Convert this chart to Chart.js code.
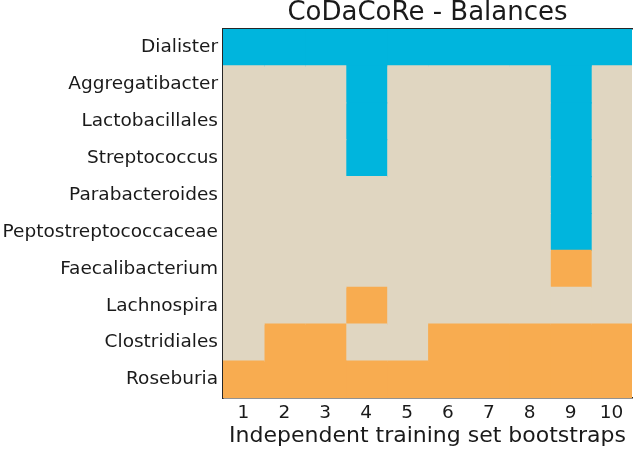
<!DOCTYPE html>
<html>
<head>
<meta charset="utf-8">
<script src="https://cdn.jsdelivr.net/npm/chart.js@4/dist/chart.umd.min.js"></script>
<style>
  html, body { margin: 0; padding: 0; background: #fff; }
  #wrap { width: 633px; height: 449px; }
</style>
</head>
<body>
<div id="wrap"><canvas id="c"></canvas></div>
<script>
'use strict';

const taxa = [
  'Dialister', 'Aggregatibacter', 'Lactobacillales', 'Streptococcus', 'Parabacteroides',
  'Peptostreptococcaceae', 'Faecalibacterium', 'Lachnospira', 'Clostridiales', 'Roseburia',
];
const bootstraps = ['1', '2', '3', '4', '5', '6', '7', '8', '9', '10'];

// 1 = numerator (blue), 0 = not selected, -1 = denominator (orange); one row per taxon
const dialister        = [1, 1, 1, 1, 1, 1, 1, 1, 1, 1];
const aggregatibacter  = [0, 0, 0, 1, 0, 0, 0, 0, 1, 0];
const lactobacillales  = [0, 0, 0, 1, 0, 0, 0, 0, 1, 0];
const streptococcus    = [0, 0, 0, 1, 0, 0, 0, 0, 1, 0];
const parabacteroides  = [0, 0, 0, 0, 0, 0, 0, 0, 1, 0];
const peptostrepto     = [0, 0, 0, 0, 0, 0, 0, 0, 1, 0];
const faecalibacterium = [0, 0, 0, 0, 0, 0, 0, 0, -1, 0];
const lachnospira      = [0, 0, 0, -1, 0, 0, 0, 0, 0, 0];
const clostridiales    = [0, -1, -1, 0, 0, -1, -1, -1, -1, -1];
const roseburia        = [-1, -1, -1, -1, -1, -1, -1, -1, -1, -1];

const rows = [dialister, aggregatibacter, lactobacillales, streptococcus, parabacteroides,
  peptostrepto, faecalibacterium, lachnospira, clostridiales, roseburia];

const COLORS = { '1': '#00b5dd', '0': '#e0d6c1', '-1': '#f8ac50' };
const FONT = "'DejaVu Sans', sans-serif";
const TEXT = '#1a1a1a';
const FRAME = '#262626';

// one stacked dataset per bootstrap column, each cell one unit wide
const datasets = bootstraps.map((b, col) => ({
  label: b,
  data: rows.map(() => 1),
  backgroundColor: rows.map(r => COLORS[String(r[col])]),
  borderWidth: 0,
  inflateAmount: 0.6,
  barPercentage: 1,
  categoryPercentage: 1,
}));

new Chart(document.getElementById('c'), {
  type: 'bar',
  data: { labels: taxa, datasets },
  options: {
    indexAxis: 'y',
    responsive: true,
    maintainAspectRatio: false,
    animation: false,
    layout: { padding: { top: 0, right: 1, bottom: 0, left: 0 } },
    plugins: {
      legend: { display: false },
      tooltip: { enabled: false },
    },
    scales: {
      x: {
        type: 'linear',
        stacked: true,
        min: 0,
        max: 10,
        grid: { display: false, drawTicks: false },
        border: { display: true, color: FRAME, width: 1.5 },
        afterBuildTicks: (scale) => {
          scale.ticks = bootstraps.map((_, i) => ({ value: i + 0.5 }));
        },
        afterFit: (scale) => { scale.height = 51; },
        ticks: {
          color: TEXT,
          padding: 4,
          maxRotation: 0,
          autoSkip: false,
          font: { family: FONT, size: 18.5 },
          callback: (v) => bootstraps[Math.round(v - 0.5)],
        },
        title: {
          display: true,
          text: 'Independent training set bootstraps',
          color: TEXT,
          padding: { top: 0, bottom: 0 },
          font: { family: FONT, size: 22 },
        },
      },
      // top axis: carries the title centred over the plot and the upper frame line
      top: {
        type: 'linear',
        position: 'top',
        min: 0,
        max: 10,
        grid: { display: false, drawTicks: false },
        border: { display: true, color: FRAME, width: 1.5 },
        ticks: { display: false },
        afterFit: (scale) => { scale.height = 29; },
        title: {
          display: true,
          text: 'CoDaCoRe - Balances',
          color: TEXT,
          padding: { top: 0, bottom: 0 },
          font: { family: FONT, size: 26, lineHeight: 1.0 },
        },
      },
      y: {
        stacked: true,
        grid: { display: false, drawTicks: false },
        border: { display: true, color: FRAME, width: 1.5 },
        afterFit: (scale) => { scale.width = 223; },
        ticks: {
          color: TEXT,
          padding: 5,
          autoSkip: false,
          font: { family: FONT, size: 18.5 },
        },
      },
    },
  },
});
</script>
</body>
</html>
